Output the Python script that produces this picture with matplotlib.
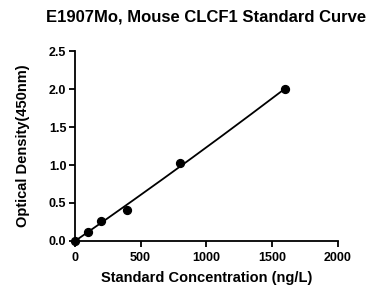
import numpy as np
import matplotlib
matplotlib.use("Agg")
import matplotlib.pyplot as plt

plt.rcParams['font.family'] = ['Liberation Sans', 'DejaVu Sans']
plt.rcParams['font.weight'] = 'bold'

# standard curve points
conc = [0, 100, 200, 400, 800, 1600]
od = [0.0, 0.119, 0.264, 0.405, 1.022, 2.004]

fig = plt.figure(figsize=(3.74, 2.89), dpi=100)
ax = fig.add_axes([0.2, 0.167, 0.703, 0.655])

# smooth fitted curve through the standards
coef = np.polyfit(conc, od, 2)
xs = np.linspace(0, 1600, 200)
ax.plot(xs, np.polyval(coef, xs), color='black', lw=1.3, zorder=2)
ax.scatter(conc, od, s=32, color='black', zorder=3, clip_on=False)

ax.set_xlim(0, 2000)
ax.set_ylim(0, 2.5)
ax.set_xticks([0, 500, 1000, 1500, 2000])
ax.set_yticks([0.0, 0.5, 1.0, 1.5, 2.0, 2.5])
ax.set_yticklabels(['0.0', '0.5', '1.0', '1.5', '2.0', '2.5'])

for side in ['top', 'right']:
    ax.spines[side].set_visible(False)
for side in ['left', 'bottom']:
    ax.spines[side].set_linewidth(1.3)
ax.tick_params(direction='out', length=4, width=1.3, labelsize=9, pad=2)
ax.tick_params(axis='x', pad=4)

fig.text(0.55, 0.94, "E1907Mo, Mouse CLCF1 Standard Curve", fontsize=12,
         fontweight='bold', ha='center', va='center')
ax.set_xlabel("Standard Concentration (ng/L)", fontsize=10.5, fontweight='bold', labelpad=5)
ax.set_ylabel("Optical Density(450nm)", fontsize=10.5, fontweight='bold', labelpad=14)

fig.savefig("out.png", dpi=100)
